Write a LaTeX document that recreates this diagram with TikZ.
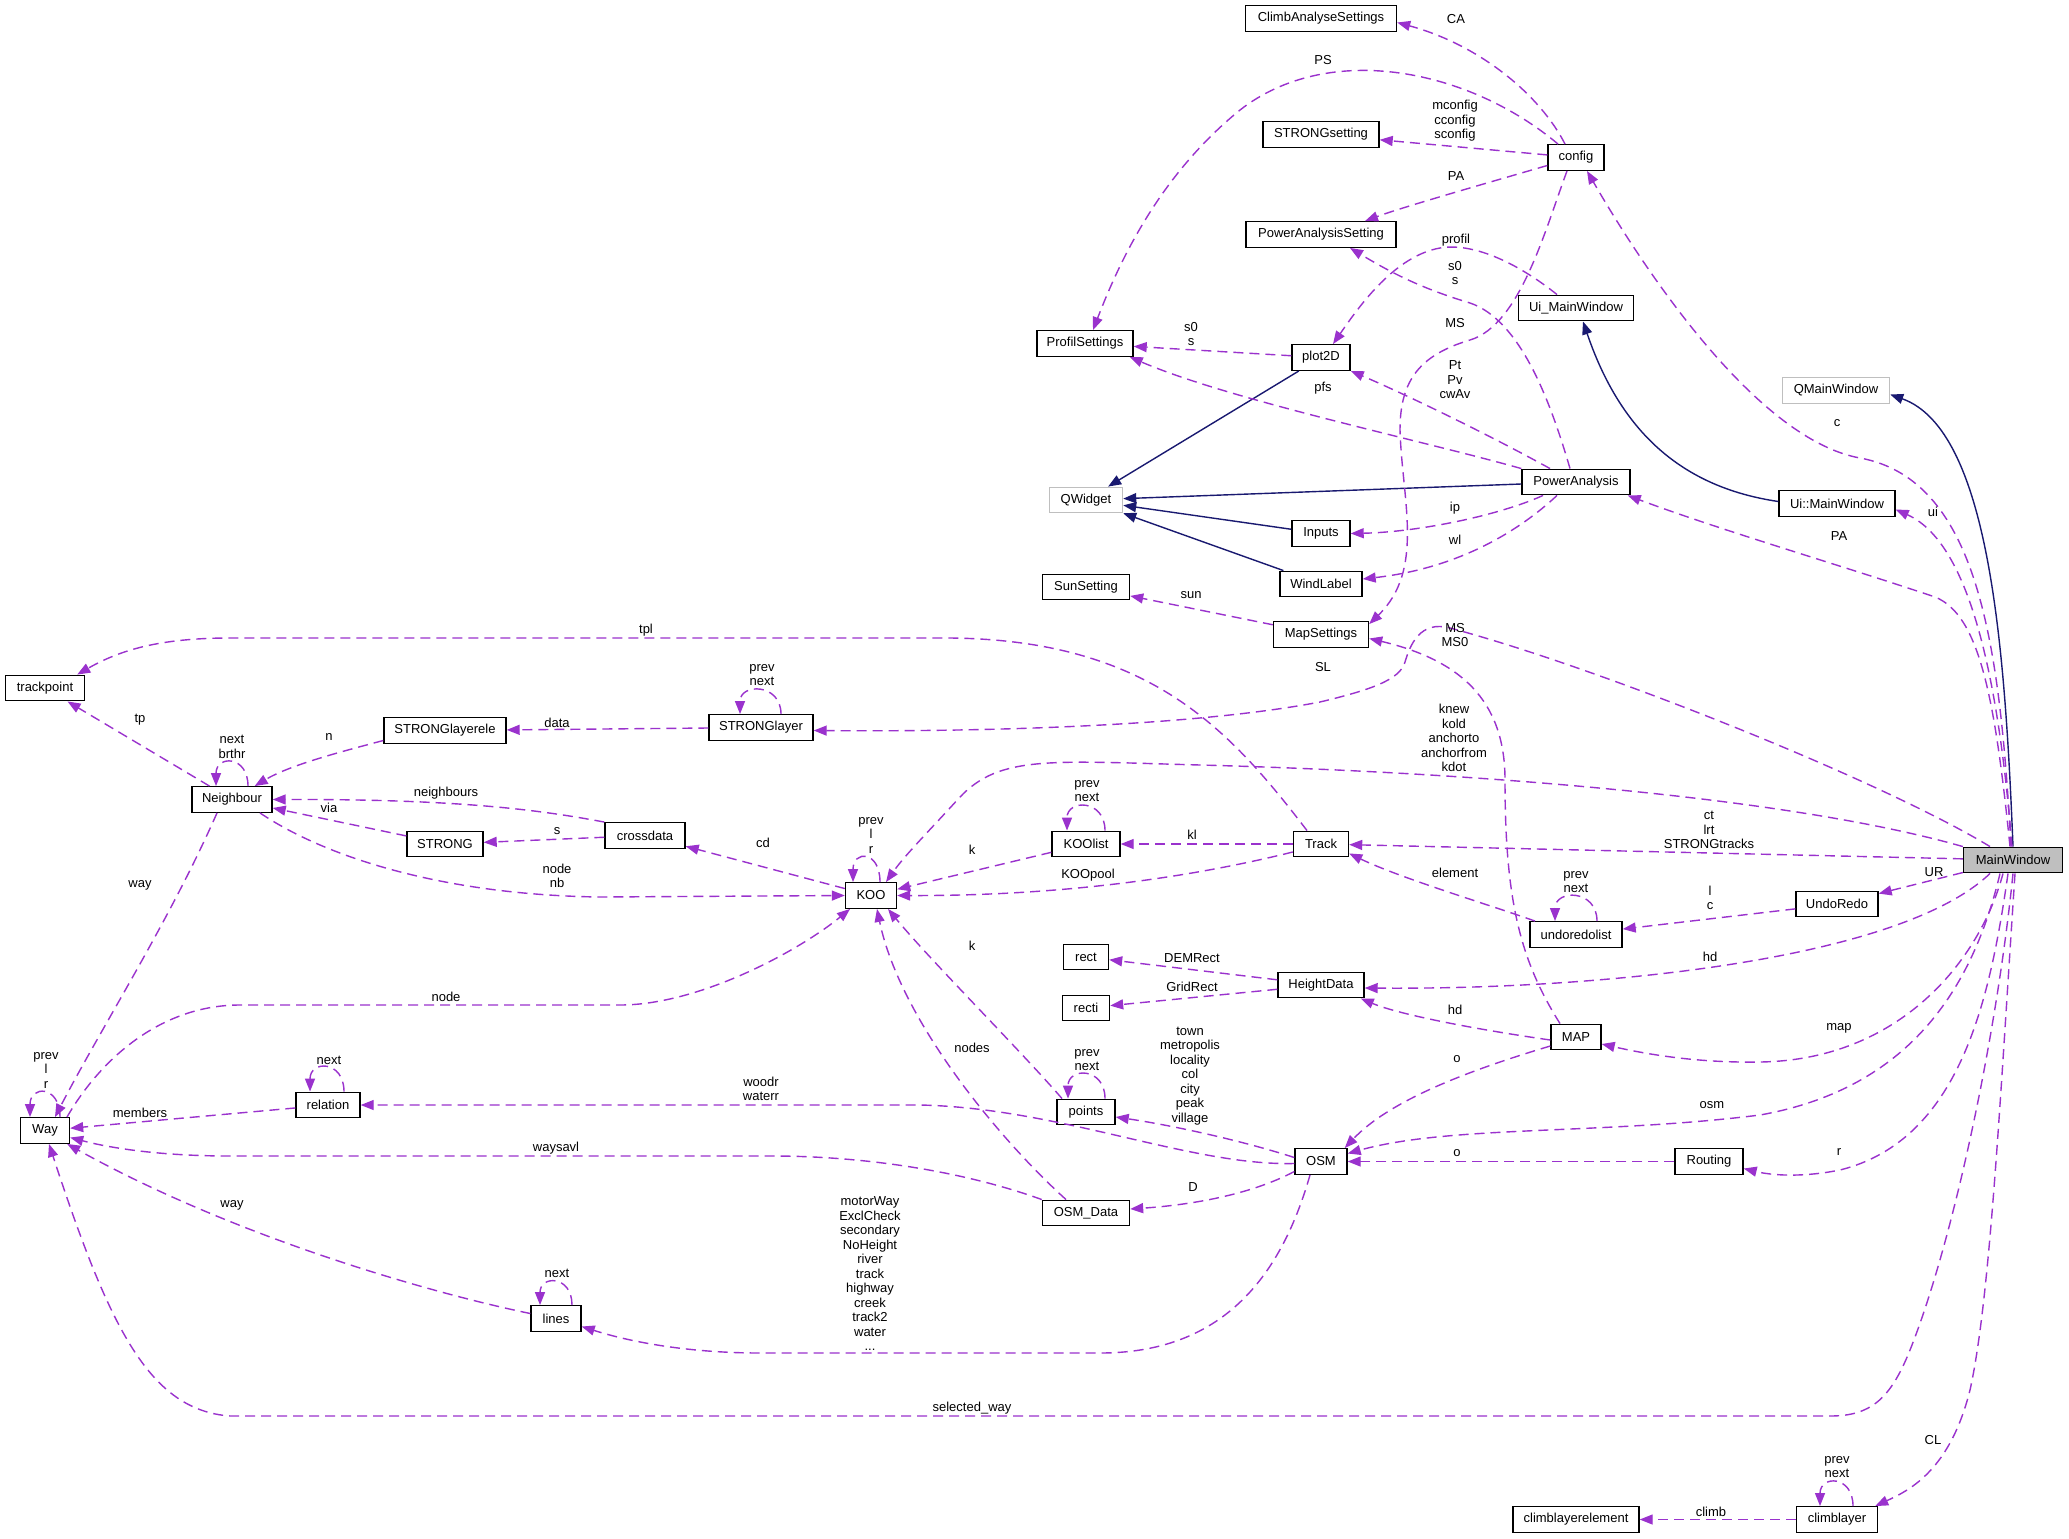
\documentclass[tikz,border=0pt]{standalone}
\usepackage{fontspec}
\setmainfont{Liberation Sans}
\usetikzlibrary{arrows.meta}
\definecolor{memc}{HTML}{9A32CD}
\definecolor{inhc}{HTML}{191970}
\definecolor{extc}{HTML}{BFBFBF}
\begin{document}
\begin{tikzpicture}[x=1pt,y=-1pt,
  cls/.style={draw=black, line width=1.4pt, minimum height=25.5pt, inner sep=0pt, font=\fontsize{13}{14.5}\selectfont, fill=white},
  extcls/.style={cls, draw=extc},
  curcls/.style={cls, fill=extc},
  lbl/.style={font=\fontsize{13}{14.5}\selectfont, align=center, inner sep=0pt},
  memedge/.style={draw=memc, line width=1.4pt, dash pattern=on 10pt off 6pt, -{Triangle[length=13pt,width=10pt]}},
  inhedge/.style={draw=inhc, line width=1.4pt, -{Triangle[length=13pt,width=10pt]}},
]
\useasboundingbox (0,0) rectangle (2069,1539);
\fill[white] (0,0) rectangle (2069,1539);

% classes
\node[cls, minimum width=151pt] (CAS) at (1321,18.5) {ClimbAnalyseSettings};
\node[cls, minimum width=116pt] (STRs) at (1321,134.5) {STRONGsetting};
\node[cls, minimum width=56pt] (config) at (1576,157.5) {config};
\node[cls, minimum width=150pt] (PAS) at (1321,234.5) {PowerAnalysisSetting};
\node[cls, minimum width=115pt] (UiMWu) at (1576,308) {Ui\_MainWindow};
\node[cls, minimum width=58pt] (plot) at (1321,357.5) {plot2D};
\node[cls, minimum width=96pt] (ProfS) at (1085,343.5) {ProfilSettings};
\node[extcls, minimum width=73pt] (QW) at (1086,500) {QWidget};
\node[cls, minimum width=108pt] (PA) at (1576,482) {PowerAnalysis};
\node[cls, minimum width=58pt] (Inp) at (1321,533.5) {Inputs};
\node[cls, minimum width=82pt] (WL) at (1321,584) {WindLabel};
\node[cls, minimum width=87pt] (Sun) at (1086,587) {SunSetting};
\node[cls, minimum width=95pt] (MapS) at (1321,634.5) {MapSettings};
\node[extcls, minimum width=107pt] (QMW) at (1836,390.5) {QMainWindow};
\node[cls, minimum width=116pt] (UiMW) at (1837,503.5) {Ui::MainWindow};
\node[curcls, minimum width=99pt] (MW) at (2013,860) {MainWindow};
\node[cls, minimum width=79pt] (tp) at (45,688) {trackpoint};
\node[cls, minimum width=80pt] (Nb) at (232,799.5) {Neighbour};
\node[cls, minimum width=122pt] (SLe) at (445,730.5) {STRONGlayerele};
\node[cls, minimum width=76pt] (STR) at (445,844) {STRONG};
\node[cls, minimum width=80pt] (cross) at (645,835.5) {crossdata};
\node[cls, minimum width=104pt] (SLy) at (761,727.5) {STRONGlayer};
\node[cls, minimum width=51pt] (KOO) at (871,895.5) {KOO};
\node[cls, minimum width=68pt] (KL) at (1086,844) {KOOlist};
\node[cls, minimum width=55pt] (Track) at (1321,844) {Track};
\node[cls, minimum width=45pt] (rect) at (1086,957) {rect};
\node[cls, minimum width=47pt] (recti) at (1086,1008) {recti};
\node[cls, minimum width=86pt] (HD) at (1321,985) {HeightData};
\node[cls, minimum width=82pt] (UR) at (1837,904) {UndoRedo};
\node[cls, minimum width=92pt] (url) at (1576,934.5) {undoredolist};
\node[cls, minimum width=50pt] (MAP) at (1576,1037) {MAP};
\node[cls, minimum width=58pt] (pts) at (1086,1112) {points};
\node[cls, minimum width=52pt] (OSM) at (1321,1161.5) {OSM};
\node[cls, minimum width=68pt] (Rt) at (1709,1161.5) {Routing};
\node[cls, minimum width=87pt] (OD) at (1086,1213) {OSM\_Data};
\node[cls, minimum width=49pt] (Way) at (45,1130.5) {Way};
\node[cls, minimum width=64pt] (rel) at (328,1105) {relation};
\node[cls, minimum width=50pt] (lines) at (556,1318.5) {lines};
\node[cls, minimum width=126pt] (cle) at (1576,1519.5) {climblayerelement};
\node[cls, minimum width=81pt] (cl) at (1837,1519.5) {climblayer};

% inheritance
\draw[inhedge] (plot) -- (QW);
\draw[inhedge] (PA) -- (QW);
\draw[inhedge] (Inp) -- (QW);
\draw[inhedge] (WL) -- (QW);
\draw[inhedge] ([yshift=2pt]UiMW.west) .. controls (1680,487) and (1620,430) .. ([xshift=7pt]UiMWu.south);
\draw[inhedge] (MW.north) .. controls (2005,650) and (1990,430) .. ([yshift=-4pt]QMW.east);

% config
\draw[memedge] ([xshift=-11pt]config.north) .. controls (1540,95) and (1480,45) .. ([yshift=-4pt]CAS.east);
\draw[memedge] ([xshift=-18pt]config.north) .. controls (1470,70) and (1330,40) .. (1240,110) .. controls (1160,175) and (1120,260) .. ([xshift=8pt]ProfS.north);
\draw[memedge] (config) -- (STRs);
\draw[memedge] ([yshift=-8pt]config.west) .. controls (1480,185) and (1400,208) .. ([xshift=44pt]PAS.north);
\draw[memedge] ([xshift=-9pt]config.south) .. controls (1545,230) and (1520,325) .. (1470,340) .. controls (1420,355) and (1400,380) .. (1400,430) .. controls (1402,500) and (1425,570) .. ([yshift=-3pt]MapS.north east);

% Ui_MainWindow, PowerAnalysis, plot2D
\draw[memedge] ([xshift=-19pt]UiMWu.north) .. controls (1520,265) and (1475,242) .. (1440,248) .. controls (1395,256) and (1360,305) .. ([xshift=12pt]plot.north);
\draw[memedge] ([xshift=-6pt]PA.north) .. controls (1550,400) and (1520,320) .. (1470,303) .. controls (1420,288) and (1390,272) .. ([xshift=29pt]PAS.south);
\draw[memedge] (plot) -- (ProfS);
\draw[memedge] (PA.north west) .. controls (1420,440) and (1230,400) .. ([xshift=-4pt]ProfS.south east);
\draw[memedge] ([xshift=-26pt]PA.north) .. controls (1480,430) and (1400,392) .. (plot.south east);
\draw[memedge] ([xshift=-33pt]PA.south) .. controls (1500,515) and (1420,532) .. (Inp.east);
\draw[memedge] ([xshift=-19pt]PA.south) .. controls (1520,530) and (1460,568) .. ([yshift=5pt]WL.east);

% MainWindow
\draw[memedge] ([xshift=-1pt]MW.north) .. controls (2000,700) and (1975,545) .. ([yshift=-6pt]UiMW.east);
\draw[memedge] ([xshift=-2pt]MW.north) .. controls (2000,650) and (1980,480) .. (1860,458) .. controls (1760,440) and (1650,280) .. ([xshift=11pt]config.south);
\draw[memedge] ([xshift=-3pt]MW.north) .. controls (1995,700) and (1980,615) .. (1935,597) .. controls (1840,565) and (1720,530) .. ([xshift=-3pt]PA.south east);
\draw[memedge] ([xshift=-23pt]MW.north) .. controls (1880,780) and (1600,668) .. (1450,628) .. controls (1420,620) and (1410,645) .. (1405,662) .. controls (1400,680) and (1370,690) .. (1320,702) .. controls (1200,725) and (1000,732) .. ([yshift=-3pt]SLy.east);
\draw[memedge] (MW.north west) .. controls (1800,800) and (1500,773) .. (1200,765) .. controls (1050,761) and (1000,755) .. (960,797) .. controls (930,830) and (905,855) .. ([xshift=15pt]KOO.north);
\draw[memedge] (MW) -- (Track);
\draw[memedge] (MW) -- (UR);
\draw[memedge] ([xshift=-23pt]MW.south) .. controls (1900,960) and (1600,990) .. ([yshift=-3pt]HD.east);
\draw[memedge] ([xshift=-10pt]MW.south) .. controls (1980,960) and (1900,1060) .. (1760,1062) .. controls (1700,1063) and (1650,1055) .. ([yshift=-7pt]MAP.east);
\draw[memedge] ([xshift=-13pt]MW.south) .. controls (1970,1000) and (1900,1090) .. (1760,1115) .. controls (1600,1135) and (1450,1125) .. ([yshift=8pt]OSM.east);
\draw[memedge] ([xshift=-5pt]MW.south) .. controls (1990,1000) and (1960,1140) .. (1840,1170) .. controls (1800,1178) and (1770,1175) .. ([yshift=-7pt]Rt.east);
\draw[memedge] (MW.south) .. controls (1995,1050) and (1950,1250) .. (1910,1350) .. controls (1890,1400) and (1870,1416) .. (1830,1416) -- (230,1416) .. controls (150,1410) and (110,1330) .. ([xshift=4pt]Way.south);
\draw[memedge] ([xshift=2pt]MW.south) .. controls (2000,1100) and (1990,1300) .. (1970,1390) .. controls (1950,1470) and (1910,1490) .. ([xshift=-3pt]cl.north east);

% middle
\draw[memedge] (MapS) -- (Sun);
\draw[memedge] ([xshift=-16pt]MAP.north) .. controls (1520,960) and (1505,900) .. (1505,780) .. controls (1505,700) and (1460,660) .. ([yshift=-4pt]MapS.east);
\draw[memedge] (UR) -- (url);
\draw[memedge] ([xshift=21pt]url.north) .. controls (1597,889) and (1555,889) .. ([xshift=-21pt]url.north);
\draw[memedge] ([xshift=-41pt]url.north) .. controls (1490,905) and (1400,878) .. ([yshift=4pt]Track.south east);
\draw[memedge] ([yshift=-3pt]MAP.west) .. controls (1480,1030) and (1400,1015) .. ([xshift=-4pt]HD.south east);
\draw[memedge] ([yshift=-9pt]MAP.west) .. controls (1470,1070) and (1390,1100) .. ([xshift=-3pt]OSM.north east);
\draw[memedge] (Rt) -- (OSM);
\draw[memedge] (cl) -- (cle);
\draw[memedge] ([xshift=16pt]cl.north) .. controls (1853,1475) and (1820,1475) .. ([xshift=-17pt]cl.north);
\draw[memedge] (HD) -- (rect);
\draw[memedge] (HD) -- (recti);

% OSM
\draw[memedge] ([yshift=4pt]OSM.west) .. controls (1240,1140) and (1170,1125) .. ([yshift=-5pt]pts.east);
\draw[memedge] ([yshift=-2pt]OSM.west) .. controls (1190,1166) and (1060,1108) .. (920,1105) -- (rel.east);
\draw[memedge] ([yshift=-10pt]OSM.west) .. controls (1250,1195) and (1190,1205) .. ([yshift=4pt]OD.east);
\draw[memedge] ([xshift=-11pt]OSM.south) .. controls (1280,1280) and (1220,1353) .. (1100,1353) -- (760,1353) .. controls (700,1353) and (640,1345) .. ([yshift=-8pt]lines.east);
\draw[memedge] (OD.north west) .. controls (960,1170) and (860,1156) .. (772,1156) -- (230,1156) .. controls (160,1156) and (110,1148) .. ([yshift=-7pt]Way.east);
\draw[memedge] ([xshift=-20pt]OD.north) .. controls (1000,1140) and (900,1020) .. ([xshift=6pt]KOO.south);
\draw[memedge] ([xshift=-24pt]pts.north) .. controls (1020,1050) and (930,960) .. ([xshift=17pt]KOO.south);
\draw[memedge] ([xshift=19pt]pts.north) .. controls (1105,1067) and (1068,1067) .. ([xshift=-18pt]pts.north);
\draw[memedge] ([yshift=5pt]lines.west) .. controls (440,1295) and (240,1240) .. ([xshift=-3pt]Way.south east);
\draw[memedge] ([xshift=16pt]lines.north) .. controls (572,1275) and (540,1275) .. ([xshift=-16pt]lines.north);
\draw[memedge] (rel) -- (Way);
\draw[memedge] ([xshift=16pt]rel.north) .. controls (344,1060) and (310,1060) .. ([xshift=-18pt]rel.north);
\draw[memedge] ([xshift=15pt]Way.north) .. controls (60,1085) and (30,1085) .. ([xshift=-15pt]Way.north);
\draw[memedge] ([xshift=22pt]Way.north) .. controls (100,1060) and (160,1005) .. (240,1005) -- (620,1005) .. controls (700,1005) and (800,950) .. ([xshift=-21pt]KOO.south);

% left part
\draw[memedge] ([xshift=-15pt]Nb.south) .. controls (170,920) and (100,1030) .. ([xshift=10pt]Way.north);
\draw[memedge] (Nb) -- (tp);
\draw[memedge] ([xshift=16pt]Nb.north) .. controls (248,755) and (216,755) .. ([xshift=-16pt]Nb.north);
\draw[memedge] ([yshift=-10pt]SLe.west) .. controls (340,752) and (290,765) .. ([xshift=-18pt]Nb.north east);
\draw[memedge] (cross.north west) .. controls (540,810) and (460,799) .. (Nb.east);
\draw[memedge] (STR) -- (Nb);
\draw[memedge] (cross) -- (STR);
\draw[memedge] (KOO) -- (cross);
\draw[memedge] ([xshift=28pt]Nb.south) .. controls (330,860) and (450,895) .. (600,897) -- (KOO.west);
\draw[memedge] (SLy) -- (SLe);
\draw[memedge] ([xshift=20pt]SLy.north) .. controls (781,683) and (740,683) .. ([xshift=-21pt]SLy.north);
\draw[memedge] ([xshift=-14pt]Track.north) .. controls (1230,730) and (1150,640) .. (950,638) -- (230,638) .. controls (160,638) and (120,650) .. ([xshift=-8pt]tp.north east);
\draw[memedge] (Track) -- (KL);
\draw[memedge] ([yshift=-8pt]Track.west) .. controls (1180,880) and (1050,896) .. (KOO.east);
\draw[memedge] (KL) -- (KOO);
\draw[memedge] ([xshift=19pt]KL.north) .. controls (1105,799) and (1067,799) .. ([xshift=-19pt]KL.north);
\draw[memedge] ([xshift=9pt]KOO.north) .. controls (880,850) and (853,850) .. ([xshift=-18pt]KOO.north);

% labels
\node[lbl] (l1) at (1456,19) {CA};
\node[lbl] (l2) at (1323,60) {PS};
\node[lbl] (l3) at (1455,121) {mconfig\\cconfig\\sconfig};
\node[lbl] (l4) at (1456,176) {PA};
\node[lbl] (l5) at (1456,240) {profil};
\node[lbl] (l6) at (1455,273) {s0\\s};
\node[lbl] (l7) at (1455,323) {MS};
\node[lbl] (l8) at (1191,334) {s0\\s};
\node[lbl] (l9) at (1455,380) {Pt\\Pv\\cwAv};
\node[lbl] (l10) at (1323,388) {pfs};
\node[lbl] (l11) at (1837,423) {c};
\node[lbl] (l12) at (1933,512) {ui};
\node[lbl] (l13) at (1455,508) {ip};
\node[lbl] (l14) at (1839,536) {PA};
\node[lbl] (l15) at (1455,540) {wl};
\node[lbl] (l16) at (1191,595) {sun};
\node[lbl] (l17) at (1455,635) {MS\\MS0};
\node[lbl] (l18) at (1323,667) {SL};
\node[lbl] (l19) at (646,630) {tpl};
\node[lbl] (l20) at (140,720) {tp};
\node[lbl] (l21) at (232,747) {next\\brthr};
\node[lbl] (l22) at (329,737) {n};
\node[lbl] (l23) at (557,723) {data};
\node[lbl] (l24) at (762,675) {prev\\next};
\node[lbl] (l25) at (1454,738) {knew\\kold\\anchorto\\anchorfrom\\kdot};
\node[lbl] (l26) at (446,793) {neighbours};
\node[lbl] (l27) at (329,808) {via};
\node[lbl] (l28) at (557,831) {s};
\node[lbl] (l29) at (763,843) {cd};
\node[lbl] (l30) at (871,835) {prev\\l\\r};
\node[lbl] (l31) at (1087,791) {prev\\next};
\node[lbl] (l32) at (972,850) {k};
\node[lbl] (l33) at (1192,835) {kl};
\node[lbl] (l34) at (1088,875) {KOOpool};
\node[lbl] (l35) at (1709,830) {ct\\lrt\\STRONGtracks};
\node[lbl] (l36) at (557,876) {node\\nb};
\node[lbl] (l37) at (1455,873) {element};
\node[lbl] (l38) at (1576,882) {prev\\next};
\node[lbl] (l39) at (1934,872) {UR};
\node[lbl] (l40) at (1710,898) {l\\c};
\node[lbl] (l41) at (972,946) {k};
\node[lbl] (l42) at (1192,958) {DEMRect};
\node[lbl] (l43) at (1710,957) {hd};
\node[lbl] (l44) at (1192,987) {GridRect};
\node[lbl] (l45) at (446,997) {node};
\node[lbl] (l46) at (1455,1010) {hd};
\node[lbl] (l47) at (1839,1028) {map};
\node[lbl] (l48) at (972,1048) {nodes};
\node[lbl] (l49) at (1190,1076) {town\\metropolis\\locality\\col\\city\\peak\\village};
\node[lbl] (l50) at (1087,1060) {prev\\next};
\node[lbl] (l51) at (1457,1059) {o};
\node[lbl] (l52) at (46,1070) {prev\\l\\r};
\node[lbl] (l53) at (329,1060) {next};
\node[lbl] (l54) at (761,1089) {woodr\\waterr};
\node[lbl] (l55) at (1712,1105) {osm};
\node[lbl] (l56) at (140,1113) {members};
\node[lbl] (l57) at (556,1148) {waysavl};
\node[lbl] (l58) at (1457,1153) {o};
\node[lbl] (l59) at (1839,1152) {r};
\node[lbl] (l60) at (1193,1187) {D};
\node[lbl] (l61) at (140,885) {way};
\node[lbl] (l62) at (232,1205) {way};
\node[lbl] (l63) at (870,1274) {motorWay\\ExclCheck\\secondary\\NoHeight\\river\\track\\highway\\creek\\track2\\water\\...};
\node[lbl] (l64) at (557,1273) {next};
\node[lbl] (l65) at (972,1408) {selected\_way};
\node[lbl] (l66) at (1933,1440) {CL};
\node[lbl] (l67) at (1837,1467) {prev\\next};
\node[lbl] (l68) at (1711,1512) {climb};
\end{tikzpicture}
\end{document}
